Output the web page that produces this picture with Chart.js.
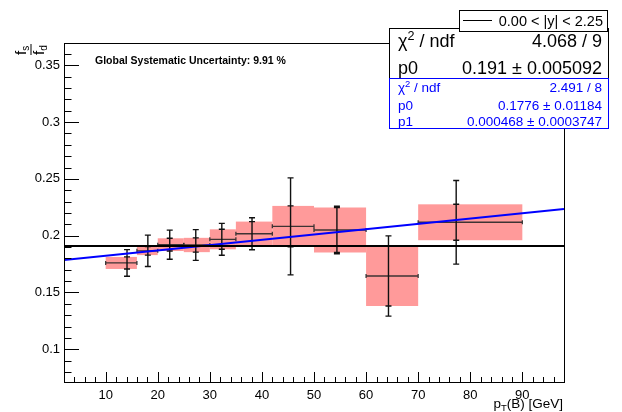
<!DOCTYPE html>
<html><head><meta charset="utf-8">
<script src="https://cdn.jsdelivr.net/npm/chart.js@4/dist/chart.umd.min.js"></script>
<style>html,body{margin:0;padding:0;background:#fff;}#wrap{width:622px;height:412px;}</style>
</head><body><div id="wrap"><canvas id="c" width="622" height="412"></canvas></div>
<script>
// ---- data ----
const binLow  = [10, 16, 20, 25, 30, 35, 42, 50, 60, 70];
const binHigh = [16, 20, 25, 30, 35, 42, 50, 60, 70, 90];
const xMean   = [14.1, 18.1, 22.3, 27.3, 32.3, 38.1, 45.5, 54.4, 64.3, 77.3];
const fsfd    = [0.1760, 0.1867, 0.1921, 0.1918, 0.1968, 0.2017, 0.2082, 0.2050, 0.1645, 0.2118];
const sysErr  = [0.0053, 0.0038, 0.0056, 0.0063, 0.0088, 0.0107, 0.0180, 0.0198, 0.0264, 0.0158];
const totErr  = [0.0117, 0.0138, 0.0128, 0.0135, 0.0140, 0.0141, 0.0427, 0.0210, 0.0353, 0.0368];

const constFitP0 = 0.191;
const linFitP0 = 0.1776;
const linFitP1 = 0.000468;
const fitRange = [2, 98];

const xMajor = [10, 20, 30, 40, 50, 60, 70, 80, 90];
const xLabels = ['10', '20', '30', '40', '50', '60', '70', '80', '90'];
const yMajor = [0.1, 0.15, 0.2, 0.25, 0.3, 0.35];
const yLabels = ['0.1', '0.15', '0.2', '0.25', '0.3', '0.35'];
const xMinorStep = 2, yMinorStep = 0.01;

const legendText = '0.00 < |y| < 2.25';
const constStats = [['χ²/ndf', '4.068 / 9'], ['p0', '0.191 ± 0.005092']];
const linStats = [['χ²/ndf', '2.491 / 8'], ['p0', '0.1776 ± 0.01184'], ['p1', '0.000468 ± 0.0003747']];
const globalText = 'Global Systematic Uncertainty: 9.91 %';

const FONT = "'Liberation Sans', Arial, Helvetica, sans-serif";

function drawRich(ctx, parts, x, y, align) {
  let w = 0;
  parts.forEach(p => { ctx.font = (p.bold ? 'bold ' : '') + p.size + 'px ' + FONT; p.w = ctx.measureText(p.t).width; w += p.w; });
  let cx = align === 'right' ? x - w : (align === 'center' ? x - w / 2 : x);
  ctx.textAlign = 'left';
  ctx.textBaseline = 'alphabetic';
  parts.forEach(p => { ctx.font = (p.bold ? 'bold ' : '') + p.size + 'px ' + FONT; ctx.fillText(p.t, cx, y + (p.dy || 0)); cx += p.w; });
}
function labelParts(lbl, size) {
  if (lbl.startsWith('χ²')) return [{t: 'χ', size}, {t: '2', size: size * 0.7, dy: -size * 0.4}, {t: ' / ndf', size}];
  return [{t: lbl, size}];
}

const rootPlugin = {
  id: 'rootStyle',
  beforeDatasetsDraw(chart) {
    const {ctx, chartArea: a, scales: {x, y}} = chart;
    ctx.save();
    ctx.beginPath(); ctx.rect(a.left, a.top, a.right - a.left, a.bottom - a.top); ctx.clip();
    ctx.fillStyle = '#ff9a9a';
    for (let i = 0; i < fsfd.length; i++) {
      const x0 = x.getPixelForValue(binLow[i]), x1 = x.getPixelForValue(binHigh[i]);
      const y0 = y.getPixelForValue(fsfd[i] + sysErr[i]), y1 = y.getPixelForValue(fsfd[i] - sysErr[i]);
      ctx.fillRect(x0, y0, x1 - x0, y1 - y0);
    }
    for (let i = 0; i < fsfd.length; i++) {
      const px = x.getPixelForValue(xMean[i]);
      const py = y.getPixelForValue(fsfd[i]);
      const x0 = x.getPixelForValue(binLow[i]), x1 = x.getPixelForValue(binHigh[i]);
      // horizontal bar with end ticks
      ctx.strokeStyle = 'rgba(40,40,40,0.9)'; ctx.lineWidth = 1.3;
      ctx.beginPath(); ctx.moveTo(x0, py); ctx.lineTo(x1, py);
      ctx.moveTo(x0, py - 2); ctx.lineTo(x0, py + 2);
      ctx.moveTo(x1, py - 2); ctx.lineTo(x1, py + 2); ctx.stroke();
      // vertical total error
      const yt0 = y.getPixelForValue(fsfd[i] + totErr[i]), yt1 = y.getPixelForValue(fsfd[i] - totErr[i]);
      const ys0 = y.getPixelForValue(fsfd[i] + sysErr[i]), ys1 = y.getPixelForValue(fsfd[i] - sysErr[i]);
      ctx.strokeStyle = '#111'; ctx.lineWidth = 1.4;
      ctx.beginPath(); ctx.moveTo(px, yt0); ctx.lineTo(px, yt1);
      [yt0, yt1, ys0, ys1].forEach(v => { ctx.moveTo(px - 3, v); ctx.lineTo(px + 3, v); });
      ctx.stroke();
    }
    ctx.restore();
  },
  afterDraw(chart) {
    const {ctx, chartArea: a, scales: {x, y}} = chart;
    ctx.save();
    // frame
    ctx.strokeStyle = '#000'; ctx.lineWidth = 1;
    ctx.strokeRect(Math.round(a.left) + 0.5, Math.round(a.top) + 0.5, Math.round(a.right - a.left), Math.round(a.bottom - a.top));
    // y ticks (inward)
    ctx.beginPath();
    for (let v = Math.ceil(y.min / yMinorStep) * yMinorStep; v <= y.max + 1e-9; v += yMinorStep) {
      const vv = Math.round(v * 1000) / 1000;
      const major = yMajor.some(m => Math.abs(m - vv) < 1e-6);
      const py = Math.round(y.getPixelForValue(vv)) + 0.5;
      ctx.moveTo(a.left, py); ctx.lineTo(a.left + (major ? 15 : 7.5), py);
    }
    // x ticks (inward)
    for (let v = Math.ceil(x.min / xMinorStep) * xMinorStep; v <= x.max; v += xMinorStep) {
      const major = xMajor.includes(v);
      const px = Math.round(x.getPixelForValue(v)) + 0.5;
      ctx.moveTo(px, a.bottom); ctx.lineTo(px, a.bottom - (major ? 10 : 5));
    }
    ctx.stroke();

    ctx.fillStyle = '#000';
    // x title
    drawRich(ctx, [{t: 'p', size: 13.5}, {t: 'T', size: 9.5, dy: 3}, {t: '(B) [GeV]', size: 13.5}], 563, 408, 'right');
    // y title (rotated fraction)
    ctx.save();
    ctx.translate(31, 55); ctx.rotate(-Math.PI / 2);
    drawRich(ctx, [{t: 'f', size: 15}, {t: 's', size: 10, dy: 3}], 0, -5, 'left');
    drawRich(ctx, [{t: 'f', size: 15}, {t: 'd', size: 10, dy: 3}], 0, 13, 'left');
    ctx.fillRect(0, -0.5, 11, 1);
    ctx.restore();
    // global text
    drawRich(ctx, [{t: globalText, size: 10.5, bold: true}], 95, 63.5, 'left');

    // stats box (constant fit)
    ctx.fillStyle = '#fff'; ctx.fillRect(389, 28, 219, 50);
    ctx.strokeStyle = '#000'; ctx.strokeRect(389.5, 28.5, 219, 50);
    ctx.fillStyle = '#000';
    drawRich(ctx, labelParts(constStats[0][0], 18), 398, 47, 'left');
    drawRich(ctx, [{t: constStats[0][1], size: 18}], 602, 47, 'right');
    drawRich(ctx, labelParts(constStats[1][0], 18), 398, 74, 'left');
    drawRich(ctx, [{t: constStats[1][1], size: 18}], 602, 74, 'right');
    // stats box (linear fit)
    ctx.fillStyle = '#fff'; ctx.fillRect(389, 78, 219, 50);
    ctx.strokeStyle = '#0000ff'; ctx.strokeRect(389.5, 78.5, 219, 50);
    ctx.fillStyle = '#0000ff';
    const rows = [92, 109.5, 126];
    linStats.forEach((r, i) => {
      drawRich(ctx, labelParts(r[0], 13.5), 398, rows[i], 'left');
      drawRich(ctx, [{t: r[1], size: 13.5}], 602, rows[i], 'right');
    });
    // legend
    ctx.fillStyle = '#fff'; ctx.fillRect(459, 10, 148, 22);
    ctx.strokeStyle = '#000'; ctx.strokeRect(459.5, 10.5, 148, 21);
    ctx.beginPath(); ctx.moveTo(463, 20.5); ctx.lineTo(492, 20.5); ctx.stroke();
    ctx.fillStyle = '#000';
    drawRich(ctx, [{t: legendText, size: 14.5}], 603, 25.5, 'right');
    ctx.restore();
  }
};

new Chart(document.getElementById('c'), {
  type: 'scatter',
  data: {
    datasets: [
      {label: 'data', data: xMean.map((v, i) => ({x: v, y: fsfd[i]})), pointRadius: 0, showLine: false},
      {type: 'line', label: 'const', data: fitRange.map(v => ({x: v, y: constFitP0})), borderColor: '#000', borderWidth: 2, pointRadius: 0, fill: false},
      {type: 'line', label: 'lin', data: fitRange.map(v => ({x: v, y: linFitP0 + linFitP1 * v})), borderColor: '#0000ff', borderWidth: 2, pointRadius: 0, fill: false}
    ]
  },
  options: {
    responsive: false, animation: false, devicePixelRatio: 1,
    layout: {padding: {left: 0, top: 43, right: 58, bottom: 0}},
    plugins: {legend: {display: false}, tooltip: {enabled: false}},
    scales: {
      x: {
        type: 'linear', min: 2, max: 98,
        afterBuildTicks: s => { s.ticks = xMajor.map(v => ({value: v})); },
        afterFit: s => { s.height = 30; },
        grid: {display: false, drawTicks: false}, border: {display: false},
        ticks: {autoSkip: false, maxRotation: 0, padding: 6, color: '#000', font: {family: FONT, size: 13},
          callback: (v, i) => xLabels[i]}
      },
      y: {
        type: 'linear', min: 0.0712, max: 0.3696,
        afterBuildTicks: s => { s.ticks = yMajor.map(v => ({value: v})); },
        afterFit: s => { s.width = 64; },
        grid: {display: false, drawTicks: false}, border: {display: false},
        ticks: {autoSkip: false, padding: 4, color: '#000', font: {family: FONT, size: 13},
          callback: (v, i) => yLabels[i]}
      }
    }
  },
  plugins: [rootPlugin]
});
</script></body></html>
